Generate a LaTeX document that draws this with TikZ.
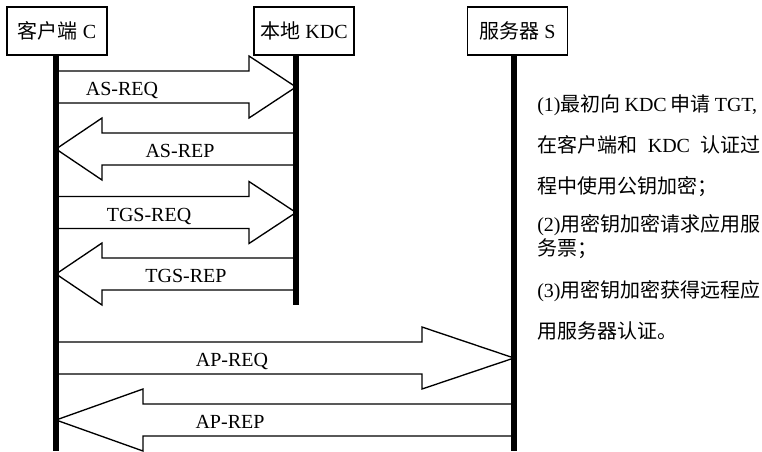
\documentclass[tikz,border=0pt]{standalone}
\usepackage{fontspec}
\setmainfont{Liberation Serif}
\newfontfamily\cjk{Noto Sans CJK SC}
\newcommand\zh[1]{{\cjk #1}}
\newcommand\blockarrow[4]{%
  \draw[blk] (#1,#4-16) -- (#2,#4-16) -- (#2,#4-31) -- (#3,#4) -- (#2,#4+31) -- (#2,#4+16) -- (#1,#4+16);}
\begin{document}
\begin{tikzpicture}[x=0.75pt,y=-0.75pt,
  font=\fontsize{15}{18}\selectfont,
  box/.style={draw, line width=1.1pt, fill=white, minimum width=75pt, minimum height=36pt, inner sep=0pt},
  life/.style={line width=4pt},
  blk/.style={draw, line width=1pt, fill=white, line join=miter},
  lbl/.style={anchor=base, inner sep=0pt},
  note/.style={anchor=base west, inner sep=0pt}]
\useasboundingbox (0,0) rectangle (762,451);

% boxes
\node[box] (client) at (57,31) {\zh{客户端} C};
\node[box] (kdc) at (304,31) {\zh{本地} KDC};
\node[box] (server) at (517.5,31) {\zh{服务器} S};

% lifeline ends
\coordinate (cEnd) at (56,451);
\coordinate (kEnd) at (296,305);
\coordinate (sEnd) at (514,451);

% block arrows
\blockarrow{56}{249}{296}{87}
\blockarrow{296}{102}{56}{149}
\blockarrow{56}{249}{296}{212.5}
\blockarrow{296}{102}{56}{274}
\blockarrow{56}{422}{514}{358}
\blockarrow{514}{143}{56}{420}

% lifelines
\draw[life] (cEnd |- client.south) -- (cEnd);
\draw[life] (kEnd |- kdc.south) -- (kEnd);
\draw[life] (sEnd |- server.south) -- (sEnd);

% arrow labels
\node[lbl] (l1) at (122,95.5) {AS-REQ};
\node[lbl] (l2) at (180,157.5) {AS-REP};
\node[lbl] (l3) at (149,221) {TGS-REQ};
\node[lbl] (l4) at (186,282.5) {TGS-REP};
\node[lbl] (l5) at (232,366.5) {AP-REQ};
\node[lbl] (l6) at (230,428.5) {AP-REP};

% notes
\node[note] (n1) at (537,111) {(1)\zh{最初向}\hspace{3pt}KDC\hspace{3pt}\zh{申请}\hspace{3pt}TGT,};
\node[note] (n2) at (537,152) {\zh{在客户端和}\hspace{7.9pt}KDC\hspace{7.9pt}\zh{认证过}};
\node[note] (n3) at (537,193) {\zh{程中使用公钥加密；}};
\node[note] (n4) at (537,231) {(2)\zh{用密钥加密请求应用服}};
\node[note] (n5) at (537,255) {\zh{务票；}};
\node[note] (n6) at (537,297) {(3)\zh{用密钥加密获得远程应}};
\node[note] (n7) at (537,338) {\zh{用服务器认证。}};
\end{tikzpicture}
\end{document}
